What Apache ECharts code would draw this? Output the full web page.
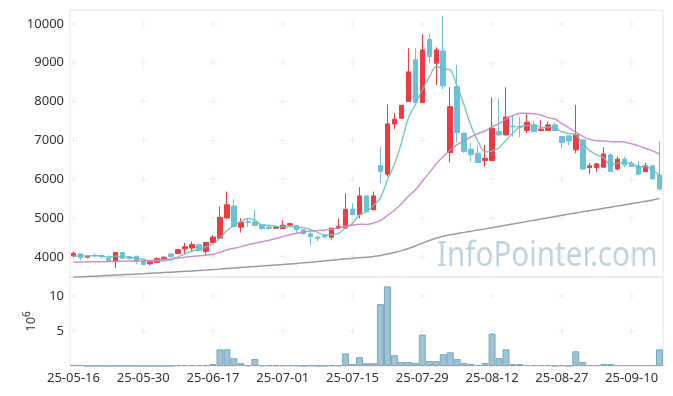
<!DOCTYPE html>
<html><head><meta charset="utf-8">
<script src="https://cdn.jsdelivr.net/npm/echarts@6/dist/echarts.min.js"></script>
<style>html,body{margin:0;padding:0;background:#fff}#c{width:673px;height:396px}</style>
</head><body><div id="c"></div>
<script>
const dates = [
'25-05-16','25-05-19','25-05-20','25-05-21','25-05-22','25-05-23','25-05-26','25-05-27','25-05-28','25-05-29',
'25-05-30','25-06-02','25-06-04','25-06-05','25-06-09','25-06-10','25-06-11','25-06-12','25-06-13','25-06-16',
'25-06-17','25-06-18','25-06-19','25-06-20','25-06-23','25-06-24','25-06-25','25-06-26','25-06-27','25-06-30',
'25-07-01','25-07-02','25-07-03','25-07-04','25-07-07','25-07-08','25-07-09','25-07-10','25-07-11','25-07-14',
'25-07-15','25-07-16','25-07-17','25-07-18','25-07-21','25-07-22','25-07-23','25-07-24','25-07-25','25-07-28',
'25-07-29','25-07-30','25-07-31','25-08-01','25-08-04','25-08-05','25-08-06','25-08-07','25-08-08','25-08-11',
'25-08-12','25-08-13','25-08-14','25-08-18','25-08-19','25-08-20','25-08-21','25-08-22','25-08-25','25-08-26',
'25-08-27','25-08-28','25-08-29','25-09-01','25-09-02','25-09-03','25-09-04','25-09-05','25-09-08','25-09-09',
'25-09-10','25-09-11','25-09-12','25-09-15','25-09-16'];
const opens = [4025,4075,3990,4040,4040,3950,3880,4110,4005,4015, 3895,3820,3855,3945,4075,4085,4205,4225,4310,4140,
 4370,4480,5000,5310,4765,4910,4900,4825,4770,4735, 4730,4815,4800,4695,4590,4505,4550,4505,4740,4740,
 5230,5090,5570,5210,6350,6130,7420,7570,8000,9075, 7975,9600,8990,9305,6685,8385,7185,6775,6670,6480,
 6480,7225,7140,7370,7360,7255,7400,7255,7255,7400, 7100,7115,6755,7015,6300,6300,6310,6625,6265,6515,
 6410,6345,6195,6345,6110];
const closes = [4090,3985,4020,4030,4005,3895,4110,3965,3955,3880, 3800,3870,3955,3990,4000,4185,4260,4320,4165,4370,
 4510,5020,5340,4785,4890,4890,4810,4730,4735,4770, 4815,4855,4700,4595,4525,4475,4510,4740,4780,5225,
 5090,5570,5170,5570,6200,7425,7545,7905,8765,7980, 9330,9160,9330,8405,7870,7200,6715,6630,6430,6540,
 7315,7140,7600,7350,7340,7470,7225,7290,7400,7255, 6945,6985,7140,6260,6345,6395,6650,6195,6515,6370,
 6325,6130,6345,6005,5745];
const lows = [3990,3910,3960,3990,3950,3890,3710,3960,3940,3810, 3790,3780,3850,3935,3975,4080,4070,4135,4150,4030,
 4360,4470,4970,4760,4625,4770,4790,4700,4690,4720, 4725,4810,4610,4580,4285,4400,4490,4440,4730,4730,
 5080,4995,5150,5200,5900,6070,7290,7560,7990,7970, 7965,8990,8430,8320,6430,6945,6680,6455,6420,6325,
 6470,7120,7130,7100,7080,7185,7220,7230,7250,7240, 6800,6880,6670,6240,6130,6180,6300,6190,6220,6310,
 6320,6125,6190,5990,5710];
const highs = [4135,4080,4050,4085,4050,4040,4115,4120,4020,4030, 3900,3910,3990,4010,4080,4195,4360,4395,4340,4380,
 4560,5295,5680,5480,5000,5000,5210,4850,4800,4790, 4940,4880,4820,4700,4650,4550,4560,4745,4990,5640,
 5380,5795,5580,5680,6840,7930,7700,7910,9375,9380, 9740,9760,9400,10205,8370,8945,7200,6930,6885,6885,
 8110,8085,8370,7655,7600,7675,7500,7520,7480,7450, 7110,7130,7915,7020,6410,6420,6825,6670,6580,6580,
 6470,6470,6410,6360,6970];
// volume in millions of shares
const volumes = [0.15,0.15,0.02,0.02,0.02,0.02,0.02,0.02,0.02,0.02, 0.02,0.02,0.02,0.02,0.02,0.12,0.12,0.12,0.12,0.12,
 0.28,2.38,2.38,1.1,0.42,0.12,1.0,0.1,0.1,0.1, 0.1,0.1,0.1,0.02,0.1,0.02,0.02,0.1,0.1,1.8,
 0.3,1.26,0.4,0.4,8.83,11.36,1.54,0.56,0.56,0.42, 4.49,0.7,0.7,1.68,1.96,0.98,0.42,0.28,0.14,0.42,
 4.63,1.12,2.38,0.28,0.28,0.14,0.14,0.14,0.14,0.02, 0.12,0.02,2.1,0.56,0.14,0.14,0.28,0.28,0.14,0.14,
 0.14,0.14,0.14,0.14,2.38];
const ma5Head = [4020,4020,4025,4030];
const ma20Head = [3865,3867,3869,3871,3874,3878,3882,3886,3890,3893,3897,3905,3915,3928,3945,3965,3988,4010,4030];
const maLong = [3475,3484,3493,3502,3511,3520,3529,3538,3547,3556, 3565,3575,3585,3595,3605,3615,3625,3636,3647,3658,
 3670,3683,3696,3709,3722,3735,3748,3761,3774,3787, 3800,3815,3830,3845,3860,3878,3896,3914,3932,3946,
 3960,3975,3990,4010,4035,4070,4110,4160,4215,4280, 4350,4420,4480,4530,4570,4600,4630,4660,4690,4720,
 4750,4782,4814,4846,4878,4910,4942,4974,5006,5038, 5070,5100,5130,5160,5190,5220,5250,5280,5310,5340,
 5370,5400,5430,5465,5500];
const priceTicks = [4000,5000,6000,7000,8000,9000,10000];
const volTicks = [5,10];
const labelStep = 10;

function movingAvg(n, head) {
  return closes.map((c, i) => {
    if (i < n - 1) return head[i];
    let s = 0;
    for (let k = i - n + 1; k <= i; k++) s += closes[k];
    return Math.round(s / n);
  });
}
const ma5 = movingAvg(5, ma5Head);
const ma20 = movingAvg(20, ma20Head);
const candles = dates.map((d, i) => [opens[i], closes[i], lows[i], highs[i]]);

const labelIdx = dates.map((d, i) => i).filter(i => i % labelStep === 0);
const plusPrice = [], plusVol = [];
labelIdx.forEach(i => {
  priceTicks.forEach(t => plusPrice.push([dates[i], t]));
  volTicks.forEach(t => plusVol.push([dates[i], t]));
});
const plusSym = 'path://M3,0H4V3H7V4H4V7H3V4H0V3H3Z';
const FONT = 'Noto Sans';

const chart = echarts.init(document.getElementById('c'));
chart.setOption({
  animation: false,
  backgroundColor: '#fff',
  textStyle: { fontFamily: FONT },
  grid: [
    { left: 70, right: 10, top: 10, height: 267, show: true, borderColor: '#e4e4e4', borderWidth: 1 },
    { left: 70, right: 10, top: 277, height: 89, show: true, borderColor: '#e4e4e4', borderWidth: 1 }
  ],
  xAxis: [
    { type: 'category', gridIndex: 0, data: dates, boundaryGap: true,
      axisLine: { show: false }, axisTick: { show: false }, axisLabel: { show: false }, splitLine: { show: false } },
    { type: 'category', gridIndex: 1, data: dates, boundaryGap: true,
      axisLine: { show: false }, axisTick: { show: false }, splitLine: { show: false },
      axisLabel: { interval: labelStep - 1, fontSize: 13, color: '#333', margin: 6, fontFamily: FONT } }
  ],
  yAxis: [
    { type: 'value', gridIndex: 0, min: 3480, max: 10360, splitNumber: 6, scale: true,
      splitLine: { show: false }, axisTick: { show: false }, axisLine: { show: false },
      axisLabel: { showMinLabel: false, showMaxLabel: false, fontSize: 13, color: '#333', margin: 6, fontFamily: FONT,
        formatter: v => String(v) } },
    { type: 'value', gridIndex: 1, min: 0, max: 12.7, splitNumber: 2,
      splitLine: { show: false }, axisTick: { show: false }, axisLine: { show: false },
      axisLabel: { showMinLabel: false, showMaxLabel: false, fontSize: 13, color: '#333', margin: 6, fontFamily: FONT },
      name: '{a|10}{b|6}', nameLocation: 'middle', nameRotate: 90, nameGap: 24,
      nameTextStyle: { rich: { a: { fontSize: 13, color: '#333', fontFamily: FONT }, b: { fontSize: 10, color: '#333', fontFamily: FONT, padding: [0, 0, 9, 0] } } } }
  ],
  graphic: [{
    type: 'text', x: 437, y: 239, scaleX: 0.87, silent: true, z: 0,
    style: { text: 'InfoPointer.com', fontSize: 34, fontFamily: FONT, fill: 'rgba(140,175,200,0.55)', textVerticalAlign: 'top' }
  }],
  series: [
    { type: 'scatter', xAxisIndex: 0, yAxisIndex: 0, data: plusPrice, symbol: plusSym, symbolSize: 7,
      itemStyle: { color: '#e8e8e8' }, silent: true, z: 1 },
    { type: 'scatter', xAxisIndex: 1, yAxisIndex: 1, data: plusVol, symbol: plusSym, symbolSize: 7,
      itemStyle: { color: '#e8e8e8' }, silent: true, z: 1 },
    { type: 'candlestick', xAxisIndex: 0, yAxisIndex: 0, data: candles, barWidth: 5,
      itemStyle: { color: '#ee3a40', color0: '#6cc1d8', borderColor: '#ee3a40', borderColor0: '#6cc1d8', borderWidth: 1 }, z: 3 },
    { type: 'line', xAxisIndex: 0, yAxisIndex: 0, data: ma5, showSymbol: false, smooth: 0.3,
      lineStyle: { color: 'rgba(110,190,180,0.85)', width: 1.5 }, z: 4 },
    { type: 'line', xAxisIndex: 0, yAxisIndex: 0, data: ma20, showSymbol: false, smooth: 0.3,
      lineStyle: { color: 'rgba(200,135,200,0.9)', width: 1.5 }, z: 4 },
    { type: 'line', xAxisIndex: 0, yAxisIndex: 0, data: maLong, showSymbol: false, smooth: 0.3,
      lineStyle: { color: '#9c9c9c', width: 1.5 }, z: 4 },
    { type: 'bar', xAxisIndex: 1, yAxisIndex: 1, data: volumes, barCategoryGap: '0%',
      itemStyle: { color: 'rgba(140,185,205,0.85)', borderColor: '#7aa8bf', borderWidth: 1 }, z: 3 }
  ]
});
</script></body></html>
